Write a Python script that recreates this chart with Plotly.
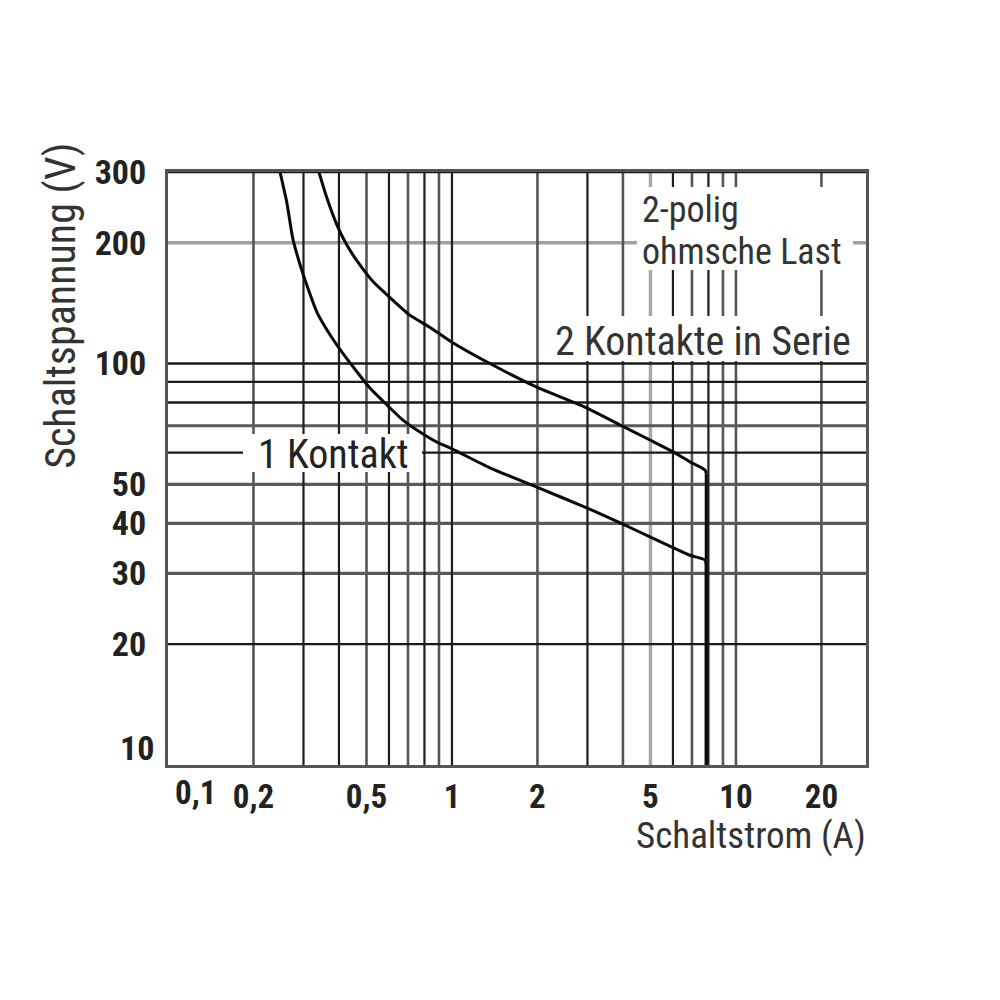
import math
import plotly.graph_objects as go

# ---- data ----
# 1 Kontakt curve (Schaltstrom A, Schaltspannung V)
k1_current = [0.248, 0.262, 0.275, 0.292, 0.309, 0.335, 0.372, 0.413, 0.463, 0.514, 0.590,
              0.672, 0.771, 0.885, 1.0, 1.36, 1.99, 2.94, 3.91, 4.98, 5.95, 6.89, 7.78, 7.86, 7.86]
k1_voltage = [300, 252, 205, 176, 156, 134, 118, 106, 95.3, 86.9, 78.9,
              72.3, 67.5, 63.7, 61.3, 55.0, 49.2, 43.9, 40.1, 37.0, 34.9, 33.3, 32.4, 31.5, 10]

# 2 Kontakte in Serie curve
k2_current = [0.340, 0.363, 0.394, 0.427, 0.474, 0.527, 0.605, 0.711, 0.837, 1.0, 1.36,
              1.99, 2.94, 3.91, 4.98, 5.95, 6.89, 7.78, 7.86, 7.86]
k2_voltage = [300, 258, 221, 197, 176, 160, 146, 132, 123, 113, 100,
              87.3, 77.9, 70.3, 64.5, 60.5, 56.9, 54.3, 53.3, 10]

# grid values
x_grid_black = [0.3, 0.4, 0.6, 0.8, 1, 3, 6, 8]
x_grid_dark = [0.2, 0.5, 0.7, 0.9, 2, 4, 7, 9, 10, 20]
x_grid_light = [5]
y_grid_black = [300, 100, 90, 80, 60, 20]
y_grid_dark = [70, 50, 40, 30]
y_grid_light = [200]

x_tick_vals = [0.2, 0.5, 1, 2, 5, 10, 20]
x_tick_text = ["0,2", "0,5", "1", "2", "5", "10", "20"]
y_tick_vals = [20, 30, 40, 50, 100, 200, 300]
y_tick_text = ["20", "30", "40", "50", "100", "200", "300"]
x_corner_label = (0.1, "0,1")
y_corner_label = (10, "10")

lg = math.log10
X_LOG_RANGE = [-1.0, 1.458]
Y_LOG_RANGE = [1.0, lg(300)]
XMIN, XMAX = 10 ** X_LOG_RANGE[0], 10 ** X_LOG_RANGE[1]
YMIN, YMAX = 10 ** Y_LOG_RANGE[0], 10 ** Y_LOG_RANGE[1]

FONT = "Liberation Sans Narrow, Roboto Condensed, Liberation Sans, sans-serif"
TXT = "#222222"
LBL = "#333333"

fig = go.Figure()


def vlines(vals, color, width):
    xs, ys = [], []
    for v in vals:
        xs += [v, v, None]
        ys += [YMIN, YMAX, None]
    fig.add_trace(go.Scatter(x=xs, y=ys, mode="lines", line=dict(color=color, width=width),
                             hoverinfo="skip", showlegend=False))


def hlines(vals, color, width):
    xs, ys = [], []
    for v in vals:
        xs += [XMIN, XMAX, None]
        ys += [v, v, None]
    fig.add_trace(go.Scatter(x=xs, y=ys, mode="lines", line=dict(color=color, width=width),
                             hoverinfo="skip", showlegend=False))


def px_x(p):
    # page pixel column -> current on the log axis
    return 10 ** ((p - 168) / 284.0 - 1)


def px_y(p):
    return 10 ** (1 + (765 - p) / 401.5)


def mask(x0, x1, y0, y1):
    # white label background (page pixels converted through the axis scale)
    a, b = px_x(x0), px_x(x1)
    c, d = px_y(y1), px_y(y0)
    fig.add_trace(go.Scatter(x=[a, b, b, a, a], y=[c, c, d, d, c], mode="lines",
                             fill="toself", fillcolor="white", line=dict(width=0, color="white"),
                             hoverinfo="skip", showlegend=False))


def curve(xs, ys, name):
    # smooth characteristic, then the straight vertical current limit at its end
    fig.add_trace(go.Scatter(x=xs[:-1], y=ys[:-1], mode="lines", name=name,
                             line=dict(color="#0a0a0a", width=3, shape="spline", smoothing=0.6),
                             showlegend=False))
    fig.add_trace(go.Scatter(x=xs[-2:], y=ys[-2:], mode="lines", name=name,
                             line=dict(color="#0a0a0a", width=3),
                             showlegend=False))


vlines(x_grid_light, "#a8a8a8", 3.5)
hlines(y_grid_light, "#a0a0a0", 3.5)
vlines(x_grid_dark, "#555555", 2.6)
hlines(y_grid_dark, "#5a5a5a", 3.2)
vlines(x_grid_black, "#1e1e1e", 2.2)
hlines(y_grid_black, "#1a1a1a", 2.4)

mask(637, 853, 187, 270)     # 2-polig / ohmsche Last
mask(546, 862, 316, 361)     # 2 Kontakte in Serie
mask(243, 422, 434, 472)     # 1 Kontakt

curve(k1_current, k1_voltage, "1 Kontakt")
curve(k2_current, k2_voltage, "2 Kontakte in Serie")

annotations = [
    dict(x=lg(px_x(640)), y=lg(px_y(210)), xref="x", yref="y", text="2-polig",
         xanchor="left", yanchor="middle", showarrow=False,
         font=dict(family=FONT, size=36, color=LBL)),
    dict(x=lg(px_x(640)), y=lg(px_y(252)), xref="x", yref="y", text="ohmsche Last",
         xanchor="left", yanchor="middle", showarrow=False,
         font=dict(family=FONT, size=36, color=LBL)),
    dict(x=lg(px_x(703)), y=lg(px_y(341)), xref="x", yref="y", text="2 Kontakte in Serie",
         xanchor="center", yanchor="middle", showarrow=False,
         font=dict(family=FONT, size=40, color=LBL)),
    dict(x=lg(px_x(334)), y=lg(px_y(454)), xref="x", yref="y", text="1 Kontakt",
         xanchor="center", yanchor="middle", showarrow=False,
         font=dict(family=FONT, size=40, color=TXT)),
    dict(x=1.0, y=-0.119, xref="paper", yref="paper", text="Schaltstrom (A)",
         xanchor="right", yanchor="middle", showarrow=False, xshift=2,
         font=dict(family=FONT, size=37, color=LBL)),
    dict(x=-0.155, y=0.774, xref="paper", yref="paper", text="Schaltspannung (V)",
         textangle=-90, xanchor="center", yanchor="middle", showarrow=False,
         font=dict(family=FONT, size=42, color=LBL)),
    dict(x=lg(x_corner_label[0]), y=0, xref="x", yref="paper", text=x_corner_label[1],
         xanchor="center", yanchor="top", xshift=27, yshift=-6, showarrow=False,
         font=dict(family=FONT, size=33, color=TXT, weight="bold")),
    dict(x=0, y=lg(y_corner_label[0]), xref="paper", yref="y", text=y_corner_label[1],
         xanchor="right", yanchor="middle", xshift=-12, yshift=17, showarrow=False,
         font=dict(family=FONT, size=34, color=TXT, weight="bold")),
]

fig.update_layout(
    width=1000, height=1000,
    margin=dict(l=160, r=142, t=164, b=243),
    paper_bgcolor="white", plot_bgcolor="white",
    showlegend=False,
    annotations=annotations,
    xaxis=dict(type="log", range=X_LOG_RANGE,
               showgrid=False, zeroline=False,
               showline=True, mirror=True, linecolor="#555555", linewidth=3,
               tickvals=x_tick_vals, ticktext=x_tick_text, ticks="",
               ticklabelstandoff=0,
               tickfont=dict(family=FONT, size=33, color=TXT, weight="bold")),
    yaxis=dict(type="log", range=Y_LOG_RANGE,
               showgrid=False, zeroline=False,
               showline=True, mirror=True, linecolor="#555555", linewidth=3,
               tickvals=y_tick_vals, ticktext=y_tick_text, ticks="",
               ticklabelstandoff=12,
               tickfont=dict(family=FONT, size=34, color=TXT, weight="bold")),
)

fig.write_html("out.html")
